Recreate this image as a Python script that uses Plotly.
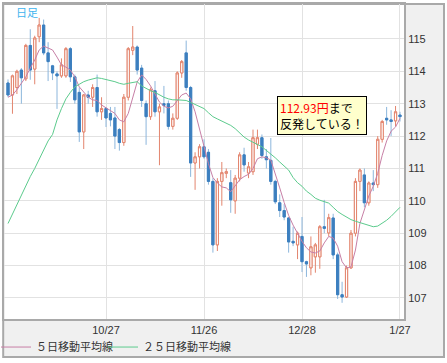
import plotly.graph_objects as go

# ---- data ----
opens = [113.64, 113.27, 113.5, 114.04, 113.77, 114.8, 114.07, 115.07, 115.43, 114.57,
         114.17, 113.92, 113.86, 113.86, 114.7, 113.83, 113.35, 112.13, 113.27, 113.2,
         113.5, 112.75, 112.85, 112.7, 112.56, 112.2, 111.8, 113.2, 114.65, 114.75,
         114.1, 113.0, 112.6, 113.4, 112.75, 113.0, 113.0, 112.3, 112.55, 113.95,
         114.57, 113.5, 111.17, 111.36, 111.67, 111.5, 110.6, 108.64, 110.6, 110.85,
         110.56, 110.0, 110.7, 111.42, 110.86, 110.9, 111.75, 111.95, 111.36, 111.25,
         110.6, 109.94, 109.7, 109.47, 108.75, 108.64, 108.9, 108.12, 107.93, 108.27,
         108.27, 109.2, 109.01, 109.47, 108.33, 107.1, 107.03, 107.93, 109.0, 110.6,
         110.8, 109.94, 110.55, 110.5, 111.9, 112.55, 112.5, 112.47, 112.65]
highs = [113.75, 113.9, 114.05, 114.1, 114.85, 115.3, 115.1, 115.65, 115.6, 114.9,
         114.2, 114.0, 114.4, 114.75, 114.75, 113.9, 113.5, 113.3, 113.4, 113.6,
         113.9, 113.2, 112.9, 112.9, 112.9, 112.25, 113.3, 114.75, 115.4, 114.8,
         114.2, 113.1, 113.5, 113.7, 113.0, 113.55, 113.1, 112.7, 114.0, 114.35,
         114.95, 113.55, 111.5, 111.75, 111.9, 111.6, 110.7, 110.7, 111.2, 111.0,
         110.95, 110.8, 111.5, 111.64, 111.2, 112.2, 112.2, 112.05, 111.6, 111.94,
         110.65, 110.2, 109.9, 109.5, 109.2, 109.05, 109.5, 108.15, 108.9, 108.7,
         109.25, 110.03, 109.6, 109.6, 108.4, 107.5, 108.0, 109.1, 110.7, 111.0,
         111.0, 110.6, 110.95, 112.0, 112.5, 112.9, 112.8, 112.93, 112.75]
lows = [113.2, 112.69, 113.3, 113.0, 113.7, 113.74, 113.6, 114.9, 114.5, 113.7,
        113.73, 112.84, 113.8, 113.8, 113.67, 113.0, 111.82, 111.6, 113.0, 112.9,
        112.6, 112.5, 112.28, 112.3, 111.6, 111.55, 111.7, 113.1, 114.5, 113.9,
        112.9, 111.73, 112.5, 112.6, 111.1, 112.7, 112.2, 112.2, 112.5, 113.8,
        113.4, 110.74, 110.34, 111.0, 111.3, 110.5, 108.4, 108.45, 109.85, 110.7,
        109.63, 109.6, 110.6, 110.9, 110.7, 110.8, 111.6, 111.3, 111.0, 110.5,
        109.9, 109.5, 109.4, 108.4, 108.6, 108.2, 107.8, 107.65, 107.7, 107.78,
        107.9, 109.0, 108.9, 108.2, 106.97, 106.85, 107.0, 107.9, 108.9, 110.3,
        109.8, 109.85, 110.3, 110.4, 111.8, 112.35, 112.0, 112.3, 112.45]
closes = [113.27, 113.86, 114.0, 113.8, 114.8, 114.04, 115.03, 115.43, 114.57, 114.3,
          113.95, 113.86, 114.2, 114.7, 113.83, 113.12, 112.13, 113.27, 113.2, 113.5,
          112.75, 112.85, 112.56, 112.5, 112.0, 111.8, 113.2, 114.7, 114.75, 114.04,
          113.1, 112.6, 113.43, 112.75, 112.9, 112.95, 112.3, 112.55, 113.95, 114.3,
          113.5, 111.17, 111.36, 111.67, 111.36, 110.6, 108.64, 110.6, 110.87, 110.9,
          110.03, 110.7, 111.42, 111.11, 111.05, 111.95, 111.95, 111.4, 111.27, 110.6,
          109.97, 109.7, 109.5, 108.73, 108.7, 109.0, 108.12, 108.05, 108.58, 108.64,
          109.2, 109.15, 109.48, 108.33, 107.1, 107.03, 107.93, 109.0, 110.6, 110.95,
          109.94, 110.55, 110.5, 111.9, 112.45, 112.5, 112.45, 112.75, 112.6]
ma5 = [113.2, 113.27, 113.43, 113.64, 113.83, 114.1, 114.35, 114.66, 114.78, 114.72,
       114.66, 114.44, 114.2, 114.13, 114.04, 113.83, 113.52, 113.36, 113.2, 113.12,
       113.1, 112.96, 112.87, 112.8, 112.7, 112.5, 112.44, 112.7, 113.2, 113.67,
       113.89, 113.75, 113.55, 113.3, 113.05, 112.92, 112.87, 112.92, 113.1, 113.27,
       113.33, 113.15, 112.75, 112.2, 111.7, 111.15, 110.72, 110.55, 110.43, 110.4,
       110.28, 110.48, 110.65, 110.75, 110.82, 111.0, 111.3, 111.36, 111.33, 111.26,
       110.85, 110.4, 109.95, 109.55, 109.25, 108.98, 108.75, 108.55, 108.42, 108.39,
       108.45, 108.7, 108.9, 108.85, 108.6, 108.12, 107.93, 107.96, 108.48, 109.3,
       109.75, 110.15, 110.45, 110.85, 111.4, 111.85, 112.15, 112.28, 112.55]
ma25 = [109.3, 109.6, 109.9, 110.2, 110.45, 110.75, 111.0, 111.3, 111.6, 111.85,
        112.05, 112.5, 112.85, 113.15, 113.35, 113.52, 113.6, 113.68, 113.73, 113.77,
        113.8, 113.78, 113.75, 113.73, 113.68, 113.63, 113.6, 113.63, 113.66, 113.68,
        113.55, 113.47, 113.4, 113.35, 113.27, 113.2, 113.15, 113.12, 113.12, 113.12,
        113.1, 113.04, 112.98, 112.9, 112.85, 112.72, 112.6, 112.53, 112.47, 112.4,
        112.33, 112.23, 112.1, 111.97, 111.88, 111.8, 111.74, 111.67, 111.56, 111.45,
        111.33, 111.2, 111.08, 110.95, 110.72, 110.56, 110.45, 110.3, 110.2, 110.08,
        110.02, 109.98, 109.93, 109.8, 109.67, 109.58, 109.5, 109.42, 109.37, 109.33,
        109.28, 109.25, 109.2, 109.22, 109.3, 109.4, 109.52, 109.65, 109.8]
tick_pos = [22, 44, 66, 88]
tick_labels = ["10/27", "11/26", "12/28", "1/27"]
y_ticks = [107, 108, 109, 110, 111, 112, 113, 114, 115]
ma5_name = "５日移動平均線"
ma25_name = "２５日移動平均線"

x = list(range(len(opens)))
body_hi = [max(o, c) for o, c in zip(opens, closes)]
body_lo = [min(o, c) for o, c in zip(opens, closes)]

UP_LINE = "#e3856e"
DOWN_BODY = "#3c7fbf"
DOWN_WICK = "#8cb6dc"
JP = "Noto Sans CJK JP"

fig = go.Figure()
fig.add_trace(go.Candlestick(
    x=x, open=opens, high=highs, low=lows, close=closes,
    increasing=dict(line=dict(color=UP_LINE, width=1), fillcolor="white"),
    decreasing=dict(line=dict(color=DOWN_WICK, width=1), fillcolor=DOWN_WICK),
    whiskerwidth=0, showlegend=False, hoverinfo="skip"))
fig.add_trace(go.Candlestick(
    x=x, open=opens, high=body_hi, low=body_lo, close=closes,
    increasing=dict(line=dict(color=UP_LINE, width=1), fillcolor="white"),
    decreasing=dict(line=dict(color=DOWN_BODY, width=1), fillcolor=DOWN_BODY),
    whiskerwidth=0, showlegend=False, hoverinfo="skip"))
fig.add_trace(go.Scatter(x=x, y=ma5, mode="lines", name=ma5_name, legend="legend",
                         line=dict(color="#c77fa6", width=1)))
fig.add_trace(go.Scatter(x=x, y=ma25, mode="lines", name=ma25_name, legend="legend2",
                         line=dict(color="#5ccb8d", width=1)))

legend_style = dict(orientation="h", xanchor="left", y=-0.089, yanchor="middle",
                    bgcolor="rgba(0,0,0,0)", borderwidth=0,
                    font=dict(family=JP, size=11, color="#333333"))

frame_y0 = -0.1206
fig.update_layout(
    width=447, height=363, autosize=False,
    margin=dict(l=4, r=43, t=4, b=44, autoexpand=False),
    paper_bgcolor="white", plot_bgcolor="white",
    boxgap=0.3, boxmode="overlay",
    xaxis=dict(range=[-0.9, 88.9], tickvals=tick_pos, ticktext=tick_labels,
               showgrid=True, gridcolor="#e2e2e2", gridwidth=1, zeroline=False,
               showline=True, mirror=True, linecolor="#a9a9a9", linewidth=2,
               ticks="", rangeslider=dict(visible=False),
               tickfont=dict(family="Liberation Sans", size=11, color="#333333")),
    yaxis=dict(range=[106.35, 116.08], side="right", tickvals=y_ticks,
               showgrid=True, gridcolor="#e2e2e2", gridwidth=1, zeroline=False,
               showline=True, mirror=True, linecolor="#a9a9a9", linewidth=2,
               ticks="",
               tickfont=dict(family="Liberation Sans", size=11, color="#333333")),
    showlegend=True,
    legend=dict(x=-0.02, **legend_style),
    legend2=dict(x=0.2475, **legend_style),
    shapes=[
        dict(type="rect", xref="paper", yref="paper", x0=1, x1=1.1, y0=frame_y0, y1=1,
             fillcolor="#f0f0f0", line=dict(width=0), layer="below"),
        dict(type="rect", xref="paper", yref="paper", x0=0, x1=1, y0=frame_y0, y1=0,
             fillcolor="#f0f0f0", line=dict(width=0), layer="below"),
        dict(type="rect", xref="paper", yref="paper", x0=-0.002, x1=1.1, y0=frame_y0, y1=1,
             line=dict(color="#a9a9a9", width=2), layer="below"),
    ],
    annotations=[
        dict(text="日足", xref="paper", yref="paper", x=0.025, y=0.9746,
             xanchor="left", yanchor="middle", showarrow=False,
             font=dict(family=JP, size=11, color="#3fb4ee")),
        dict(text="<span style='color:#ff0000'>112.93円</span>まで<br>反発している！",
             xref="paper", yref="paper", x=0.6825, y=0.708, xanchor="left", yanchor="top",
             align="left", showarrow=False, bgcolor="#ffffcc", bordercolor="#000000",
             borderwidth=1, borderpad=2, font=dict(family=JP, size=12, color="#000000")),
    ],
)

fig.write_html("out.html",
               config={"displayModeBar": False, "staticPlot": True},
               post_script="document.documentElement.style.margin='0';"
                           "document.body.style.margin='0';"
                           "document.body.style.overflow='hidden';")
